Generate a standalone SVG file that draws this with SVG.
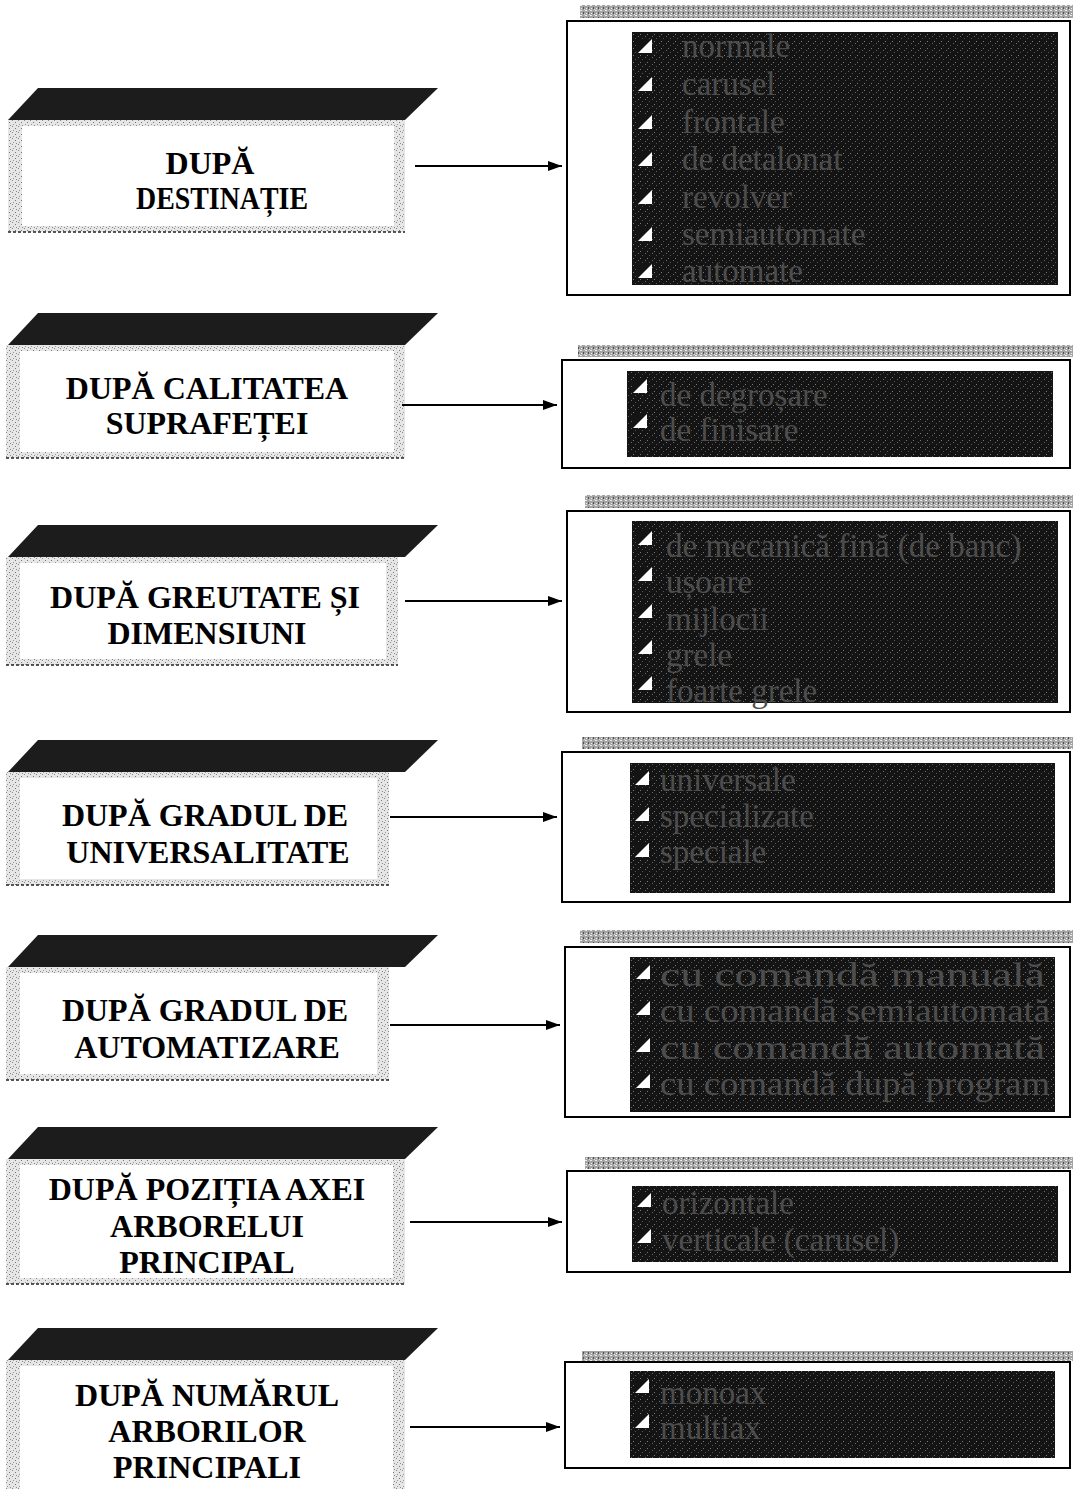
<svg xmlns="http://www.w3.org/2000/svg" width="1073" height="1489" viewBox="0 0 1073 1489">
<defs>
<pattern id="stip" width="6" height="6" patternUnits="userSpaceOnUse">
<rect width="6" height="6" fill="#e6e6e6"/>
<rect x="0" y="0" width="1" height="1" fill="#8a8a8a"/>
<rect x="3" y="2" width="1" height="1" fill="#777"/>
<rect x="1" y="4" width="1" height="1" fill="#999"/>
<rect x="4" y="5" width="1" height="1" fill="#888"/>
</pattern>
<pattern id="band" width="5" height="5" patternUnits="userSpaceOnUse">
<rect width="5" height="5" fill="#a4a4a4"/>
<rect x="0" y="0" width="2" height="1" fill="#ececec"/>
<rect x="3" y="2" width="1" height="2" fill="#505050"/>
<rect x="1" y="3" width="1" height="1" fill="#f0f0f0"/>
<rect x="4" y="4" width="1" height="1" fill="#ddd"/>
</pattern>
<pattern id="dark" width="7" height="7" patternUnits="userSpaceOnUse">
<rect width="7" height="7" fill="#141414"/>
<rect x="1" y="1" width="1" height="1" fill="#6a6a6a"/>
<rect x="5" y="3" width="1" height="1" fill="#555"/>
<rect x="3" y="6" width="1" height="1" fill="#7a7a7a"/>
</pattern>
<marker id="ah" viewBox="0 0 14 10" refX="14" refY="5" markerWidth="14" markerHeight="10" markerUnits="userSpaceOnUse" orient="auto">
<path d="M0,0 L14,5 L0,10 Z" fill="#000"/>
</marker>
<symbol id="bul" viewBox="0 0 14 14"><rect width="14" height="14" fill="#141414"/><path d="M0,14 L14,14 L14,0 Z" fill="#fff"/></symbol>
</defs>
<style>
.top{fill:#1c1c1c}
.face{fill:url(#stip)}
.inner{fill:#fff}
.base{stroke:#222;stroke-width:1.5;stroke-dasharray:3 2;fill:none}
.ttl{font-family:"Liberation Serif","Times New Roman",serif;font-weight:bold;font-size:32px;fill:#000;text-anchor:middle}
.band{fill:url(#band)}
.box{fill:#fff;stroke:#000;stroke-width:2}
.drk{fill:url(#dark)}
.it{font-family:"Liberation Serif","Times New Roman",serif;font-size:33px;fill:#4d4d4d}
.con{stroke:#000;stroke-width:2;fill:none}
</style>

<g id="node1">
<polygon class="top" points="38,88 438,88 405,120 8,120"/>
<rect class="face" x="8" y="120" width="397" height="112"/>
<rect class="inner" x="22" y="126" width="372" height="100"/>
<line class="base" x1="8" y1="232" x2="405" y2="232"/>
<text class="ttl" x="210" y="174">DUPĂ</text>
<text class="ttl" x="222" y="209" textLength="172" lengthAdjust="spacingAndGlyphs">DESTINAȚIE</text>
</g>
<g id="list1">
<rect class="band" x="580" y="5" width="493" height="13"/>
<rect class="box" x="567" y="21" width="503" height="274"/>
<rect class="drk" x="632" y="32" width="426" height="253"/>
<use href="#bul" x="638" y="39" width="14" height="14"/>
<use href="#bul" x="638" y="77" width="14" height="14"/>
<use href="#bul" x="638" y="115" width="14" height="14"/>
<use href="#bul" x="638" y="152" width="14" height="14"/>
<use href="#bul" x="638" y="190" width="14" height="14"/>
<use href="#bul" x="638" y="227" width="14" height="14"/>
<use href="#bul" x="638" y="264" width="14" height="14"/>
<text class="it" x="682" y="57">normale</text>
<text class="it" x="682" y="95">carusel</text>
<text class="it" x="682" y="133">frontale</text>
<text class="it" x="682" y="170">de detalonat</text>
<text class="it" x="682" y="208">revolver</text>
<text class="it" x="682" y="245">semiautomate</text>
<text class="it" x="682" y="282">automate</text>
</g>

<g id="node2">
<polygon class="top" points="38,313 438,313 405,345 8,345"/>
<rect class="face" x="6" y="345" width="399" height="113"/>
<rect class="inner" x="20" y="351" width="374" height="101"/>
<line class="base" x1="6" y1="458" x2="405" y2="458"/>
<text class="ttl" x="207" y="399">DUPĂ CALITATEA</text>
<text class="ttl" x="207" y="434">SUPRAFEȚEI</text>
</g>
<g id="list2">
<rect class="band" x="578" y="345" width="495" height="12"/>
<rect class="box" x="562" y="360" width="508" height="108"/>
<rect class="drk" x="627" y="371" width="426" height="86"/>
<use href="#bul" x="633" y="379" width="14" height="14"/>
<use href="#bul" x="633" y="414" width="14" height="14"/>
<text class="it" x="660" y="406">de degroșare</text>
<text class="it" x="660" y="441">de finisare</text>
</g>

<g id="node3">
<polygon class="top" points="38,525 438,525 405,557 8,557"/>
<rect class="face" x="6" y="557" width="392" height="108"/>
<rect class="inner" x="20" y="563" width="366" height="96"/>
<line class="base" x1="6" y1="665" x2="398" y2="665"/>
<text class="ttl" x="205" y="608">DUPĂ GREUTATE ȘI</text>
<text class="ttl" x="207" y="644">DIMENSIUNI</text>
</g>
<g id="list3">
<rect class="band" x="585" y="495" width="488" height="13"/>
<rect class="box" x="567" y="511" width="503" height="201"/>
<rect class="drk" x="632" y="521" width="426" height="182"/>
<use href="#bul" x="638" y="531" width="14" height="14"/>
<use href="#bul" x="638" y="567" width="14" height="14"/>
<use href="#bul" x="638" y="604" width="14" height="14"/>
<use href="#bul" x="638" y="640" width="14" height="14"/>
<use href="#bul" x="638" y="676" width="14" height="14"/>
<text class="it" x="666" y="557">de mecanică fină (de banc)</text>
<text class="it" x="666" y="593">ușoare</text>
<text class="it" x="666" y="630">mijlocii</text>
<text class="it" x="666" y="666">grele</text>
<text class="it" x="666" y="702">foarte grele</text>
</g>

<g id="node4">
<polygon class="top" points="38,740 438,740 405,772 8,772"/>
<rect class="face" x="6" y="772" width="383" height="113"/>
<rect class="inner" x="20" y="778" width="357" height="101"/>
<line class="base" x1="6" y1="885" x2="389" y2="885"/>
<text class="ttl" x="205" y="826">DUPĂ GRADUL DE</text>
<text class="ttl" x="208" y="863">UNIVERSALITATE</text>
</g>
<g id="list4">
<rect class="band" x="582" y="737" width="491" height="12"/>
<rect class="box" x="562" y="752" width="508" height="150"/>
<rect class="drk" x="630" y="763" width="425" height="130"/>
<use href="#bul" x="635" y="771" width="14" height="14"/>
<use href="#bul" x="635" y="807" width="14" height="14"/>
<use href="#bul" x="635" y="843" width="14" height="14"/>
<text class="it" x="660" y="791">universale</text>
<text class="it" x="660" y="827">specializate</text>
<text class="it" x="660" y="863">speciale</text>
</g>

<g id="node5">
<polygon class="top" points="38,935 438,935 405,967 8,967"/>
<rect class="face" x="6" y="967" width="383" height="113"/>
<rect class="inner" x="20" y="973" width="357" height="101"/>
<line class="base" x1="6" y1="1080" x2="389" y2="1080"/>
<text class="ttl" x="205" y="1021">DUPĂ GRADUL DE</text>
<text class="ttl" x="207" y="1058">AUTOMATIZARE</text>
</g>
<g id="list5">
<rect class="band" x="580" y="930" width="493" height="13"/>
<rect class="box" x="565" y="947" width="505" height="170"/>
<rect class="drk" x="630" y="957" width="425" height="155"/>
<use href="#bul" x="636" y="965" width="14" height="14"/>
<use href="#bul" x="636" y="1001" width="14" height="14"/>
<use href="#bul" x="636" y="1038" width="14" height="14"/>
<use href="#bul" x="636" y="1074" width="14" height="14"/>
<text class="it" x="660" y="986" textLength="385" lengthAdjust="spacingAndGlyphs">cu comandă manuală</text>
<text class="it" x="660" y="1022" textLength="390" lengthAdjust="spacingAndGlyphs">cu comandă semiautomată</text>
<text class="it" x="660" y="1059" textLength="385" lengthAdjust="spacingAndGlyphs">cu comandă automată</text>
<text class="it" x="660" y="1095" textLength="390" lengthAdjust="spacingAndGlyphs">cu comandă după program</text>
</g>

<g id="node6">
<polygon class="top" points="38,1127 438,1127 405,1159 8,1159"/>
<rect class="face" x="6" y="1159" width="399" height="125"/>
<rect class="inner" x="20" y="1165" width="373" height="113"/>
<line class="base" x1="6" y1="1284" x2="405" y2="1284"/>
<text class="ttl" x="207" y="1200">DUPĂ POZIȚIA AXEI</text>
<text class="ttl" x="207" y="1237">ARBORELUI</text>
<text class="ttl" x="207" y="1273">PRINCIPAL</text>
</g>
<g id="list6">
<rect class="band" x="585" y="1157" width="488" height="12"/>
<rect class="box" x="567" y="1171" width="503" height="101"/>
<rect class="drk" x="632" y="1186" width="426" height="76"/>
<use href="#bul" x="637" y="1193" width="14" height="14"/>
<use href="#bul" x="637" y="1229" width="14" height="14"/>
<text class="it" x="662" y="1214">orizontale</text>
<text class="it" x="662" y="1251">verticale (carusel)</text>
</g>

<g id="node7">
<polygon class="top" points="38,1328 438,1328 405,1360 8,1360"/>
<rect class="face" x="6" y="1360" width="399" height="129"/>
<rect class="inner" x="20" y="1366" width="373" height="123"/>
<text class="ttl" x="207" y="1406">DUPĂ NUMĂRUL</text>
<text class="ttl" x="207" y="1442">ARBORILOR</text>
<text class="ttl" x="207" y="1478">PRINCIPALI</text>
</g>
<g id="list7">
<rect class="band" x="582" y="1351" width="491" height="10"/>
<rect class="box" x="565" y="1362" width="505" height="106"/>
<rect class="drk" x="630" y="1371" width="425" height="87"/>
<use href="#bul" x="635" y="1379" width="14" height="14"/>
<use href="#bul" x="635" y="1414" width="14" height="14"/>
<text class="it" x="660" y="1404">monoax</text>
<text class="it" x="660" y="1439">multiax</text>
</g>

<g id="connectors">
<line class="con" x1="415" y1="166" x2="562" y2="166" marker-end="url(#ah)"/>
<line class="con" x1="402" y1="405" x2="557" y2="405" marker-end="url(#ah)"/>
<line class="con" x1="405" y1="601" x2="562" y2="601" marker-end="url(#ah)"/>
<line class="con" x1="390" y1="817" x2="557" y2="817" marker-end="url(#ah)"/>
<line class="con" x1="390" y1="1025" x2="560" y2="1025" marker-end="url(#ah)"/>
<line class="con" x1="410" y1="1222" x2="562" y2="1222" marker-end="url(#ah)"/>
<line class="con" x1="410" y1="1427" x2="560" y2="1427" marker-end="url(#ah)"/>
</g>
</svg>
